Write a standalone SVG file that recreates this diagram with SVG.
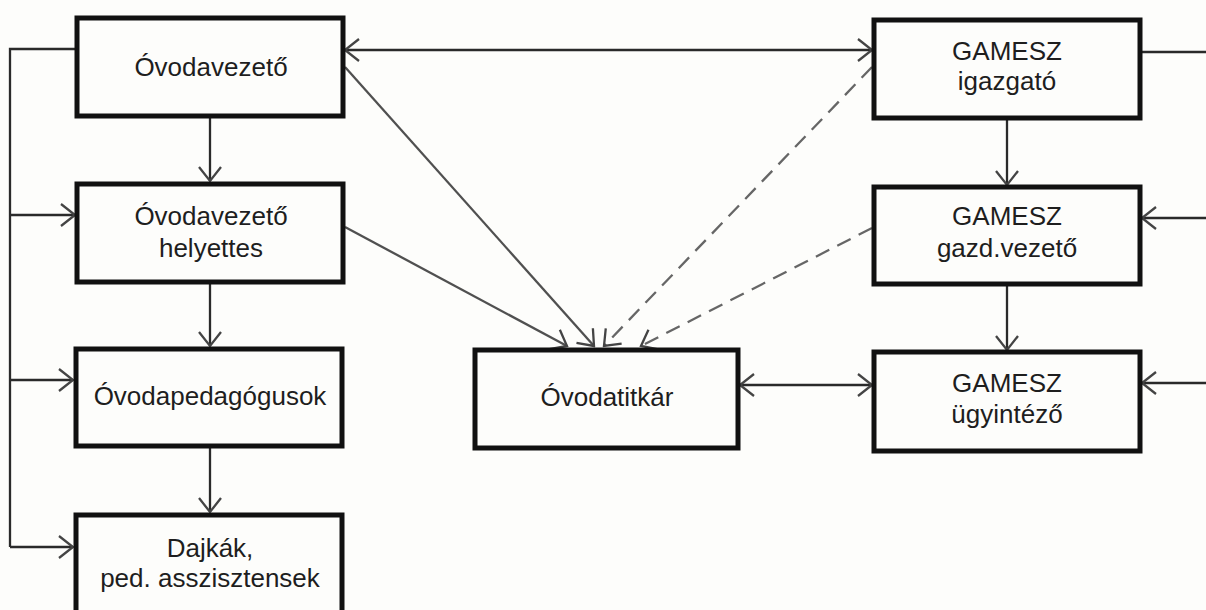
<svg xmlns="http://www.w3.org/2000/svg" width="1206" height="610" viewBox="0 0 1206 610">
<style>
.box{fill:#fdfdfb;stroke:#111;stroke-width:5}
.t{font-family:"Liberation Sans",Arial,sans-serif;font-size:26px;fill:#1e1e1e;text-anchor:middle}
.c{fill:none;stroke:#2a2a2a;stroke-width:2.3}
.g{fill:none;stroke:#505050;stroke-width:2.3}
.d{fill:none;stroke:#666;stroke-width:2.3;stroke-dasharray:15,9}
</style>
<defs>
<marker id="ah" markerUnits="userSpaceOnUse" markerWidth="17" markerHeight="26" viewBox="0 0 17 26" refX="15" refY="13" orient="auto-start-reverse">
<path d="M1,2 L15,13 L1,24" fill="none" stroke="#444" stroke-width="2.3"/>
</marker>
</defs>
<rect width="1206" height="610" fill="#fdfdfb"/>
<g id="connectors">
<polyline class="c" points="77,49 10,49 10,547"/>
<line class="c" x1="10" y1="215" x2="75" y2="215" marker-end="url(#ah)"/>
<line class="c" x1="10" y1="380" x2="73" y2="380" marker-end="url(#ah)"/>
<line class="c" x1="10" y1="547" x2="73" y2="547" marker-end="url(#ah)"/>
<line class="c" x1="210" y1="118" x2="210" y2="181" marker-end="url(#ah)"/>
<line class="c" x1="210" y1="284" x2="210" y2="346" marker-end="url(#ah)"/>
<line class="c" x1="210" y1="448" x2="210" y2="512" marker-end="url(#ah)"/>
<line class="c" x1="345" y1="50" x2="872" y2="50" marker-start="url(#ah)" marker-end="url(#ah)"/>
<line class="g" x1="345" y1="67" x2="594" y2="346" marker-end="url(#ah)"/>
<line class="g" x1="345" y1="227" x2="567" y2="346" marker-end="url(#ah)"/>
<line class="d" x1="872" y1="67" x2="604" y2="346" marker-end="url(#ah)"/>
<line class="d" x1="872" y1="228" x2="641" y2="346" marker-end="url(#ah)"/>
<line class="c" x1="740" y1="385" x2="872" y2="385" marker-start="url(#ah)" marker-end="url(#ah)"/>
<line class="c" x1="1007" y1="120" x2="1007" y2="185" marker-end="url(#ah)"/>
<line class="c" x1="1007" y1="286" x2="1007" y2="350" marker-end="url(#ah)"/>
<line class="c" x1="1142" y1="52" x2="1206" y2="52"/>
<line class="c" x1="1206" y1="218" x2="1142" y2="218" marker-end="url(#ah)"/>
<line class="c" x1="1206" y1="383" x2="1142" y2="383" marker-end="url(#ah)"/>
</g>
<g id="ovodavezeto">
<rect class="box" x="77" y="18" width="266" height="98"/>
<text class="t" x="211" y="76">Óvodavezető</text>
</g>
<g id="helyettes">
<rect class="box" x="77" y="184" width="266" height="98"/>
<text class="t" x="211" y="225">Óvodavezető</text>
<text class="t" x="211" y="257">helyettes</text>
</g>
<g id="pedagogusok">
<rect class="box" x="76" y="349" width="266" height="97"/>
<text class="t" x="210" y="405">Óvodapedagógusok</text>
</g>
<g id="dajkak">
<rect class="box" x="76" y="515" width="266" height="110"/>
<text class="t" x="210" y="557">Dajkák,</text>
<text class="t" x="210" y="587">ped. asszisztensek</text>
</g>
<g id="titkar">
<rect class="box" x="475" y="350" width="263" height="98"/>
<text class="t" x="607" y="406">Óvodatitkár</text>
</g>
<g id="gamesz-igazgato">
<rect class="box" x="874" y="20" width="266" height="98"/>
<text class="t" x="1007" y="60">GAMESZ</text>
<text class="t" x="1007" y="90">igazgató</text>
</g>
<g id="gamesz-gazd">
<rect class="box" x="874" y="187" width="266" height="97"/>
<text class="t" x="1007" y="225">GAMESZ</text>
<text class="t" x="1007" y="257">gazd.vezető</text>
</g>
<g id="gamesz-ugyintezo">
<rect class="box" x="874" y="352" width="266" height="99"/>
<text class="t" x="1007" y="392">GAMESZ</text>
<text class="t" x="1007" y="423">ügyintéző</text>
</g>
</svg>
